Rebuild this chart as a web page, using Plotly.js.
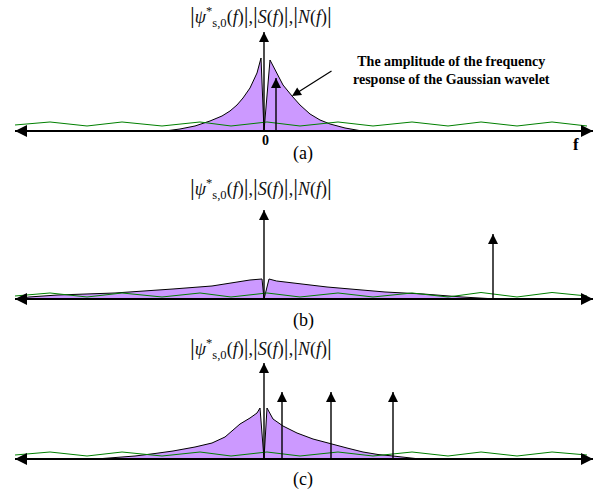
<!DOCTYPE html>
<html>
<head>
<meta charset="utf-8">
<script src="https://cdn.plot.ly/plotly-3.0.1.min.js"></script>
<style>html,body{margin:0;padding:0;background:#fff;}#chart{width:601px;height:492px;}</style>
</head>
<body>
<div id="chart"></div>
<script>
// ---------- data (f in arbitrary units, amplitude in arbitrary units) ----------
const fRange = [-4.98, 6.58];

// green noise spectrum |N(f)| (zig-zag), shared f positions
const noiseF  = [-4.98, -4.28, -3.54, -2.84, -2.04, -1.28, -0.66, 0.06, 0.72, 1.48, 2.18, 2.96, 3.68, 4.34, 5.06, 5.76, 6.46];
const noiseA  = [0.6, 0.9, 0.5, 0.9, 0.5, 0.9, 0.5, 0.9, 0.5, 0.9, 0.5, 0.9, 0.5, 0.9, 0.5, 0.9, 0.5];
const noiseB  = [0.3, 0.6, 0.2, 0.6, 0.2, 0.6, 0.2, 0.6, 0.2, 0.6, 0.2, 0.6, 0.2, 0.65, 0.2, 0.65, 0.3];
const noiseC  = [0.4, 0.7, 0.3, 0.7, 0.3, 0.7, 0.3, 0.7, 0.3, 0.7, 0.3, 0.7, 0.3, 0.7, 0.3, 0.7, 0.4];

// purple wavelet amplitude |psi*(f)|
const waveFA = [-1.98, -1.68, -1.38, -1.08, -0.84, -0.68, -0.54, -0.42, -0.28, -0.14, -0.06, 0, 0.12, 0.26, 0.38, 0.56, 0.72, 0.92, 1.12, 1.32, 1.62, 1.96];
const waveA  = [0, 0.2, 0.5, 1.0, 1.5, 2.0, 2.6, 3.3, 4.3, 5.8, 7.3, 0, 7.1, 5.8, 4.6, 3.5, 2.6, 1.7, 1.1, 0.7, 0.3, 0];
const waveFB = [-4.98, -4.7, -4.12, -2.98, -1.82, -1.04, -0.28, -0.04, 0, 0.1, 0.25, 0.56, 1.26, 2.42, 3.18, 3.96, 4.64];
const waveB  = [0, 0.2, 0.4, 0.6, 1.0, 1.3, 1.9, 2.0, 0, 2.0, 1.8, 1.6, 1.2, 0.7, 0.5, 0.2, 0];
const waveFC = [-3.36, -2.88, -2.58, -2.18, -1.82, -1.38, -1.04, -0.78, -0.64, -0.48, -0.28, -0.14, -0.08, 0, 0.06, 0.18, 0.38, 0.66, 0.98, 1.34, 1.66, 1.98, 2.28, 2.58, 2.92, 3.12];
const waveC  = [0, 0.15, 0.3, 0.55, 0.8, 1.2, 1.6, 2.2, 2.8, 3.5, 4.1, 4.6, 5.1, 0, 5.1, 4.0, 3.3, 2.6, 2.0, 1.5, 1.1, 0.7, 0.45, 0.3, 0.1, 0];

// impulses / vertical axis arrows (position, height)
const impFA = [0, 0.24];        const impHA = [9.9, 5.3];
const impFB = [0, 4.58];        const impHB = [8.9, 6.5];
const impFC = [0, 0.36, 1.34, 2.58]; const impHC = [9.6, 6.7, 6.7, 6.7];

// texts
const BAR = '<span style="font-size:24px">|</span>';
const yLabel = BAR + '<i>ψ</i><sup>*</sup><sub>s,0</sub>(<i>f</i>)' + BAR + ',' + BAR + '<i>S</i>(<i>f</i>)' + BAR + ',' + BAR + '<i>N</i>(<i>f</i>)' + BAR;
const panelLabels = ['(a)', '(b)', '(c)'];
const noteText = '<b>The amplitude of the frequency<br>response of the Gaussian wavelet</b>';

// ---------- build ----------
const SERIF = 'Liberation Serif, Times New Roman, serif';
const PURPLE = 'rgb(204,153,255)';
const GREEN = 'rgb(0,128,0)';
const H = 492;
const py = px => 1 - px / H;              // pixel row -> paper y
const pxX = px => (px - 15) / 578;        // pixel column -> paper x

const panels = [
  {xa: 'x',  ya: 'y',  wf: waveFA, wa: waveA, na: noiseA, imf: impFA, imh: impHA, titleRow: 16,  labRow: 153},
  {xa: 'x2', ya: 'y2', wf: waveFB, wa: waveB, na: noiseB, imf: impFB, imh: impHB, titleRow: 188, labRow: 320},
  {xa: 'x3', ya: 'y3', wf: waveFC, wa: waveC, na: noiseC, imf: impFC, imh: impHC, titleRow: 348, labRow: 479}
];

const traces = [];
const annotations = [];
panels.forEach((p, i) => {
  traces.push({type: 'scatter', mode: 'lines', x: p.wf, y: p.wa, xaxis: p.xa, yaxis: p.ya,
    fill: 'toself', fillcolor: PURPLE, line: {color: '#000', width: 1}, hoverinfo: 'skip', cliponaxis: false});
  traces.push({type: 'scatter', mode: 'lines', x: noiseF, y: p.na, xaxis: p.xa, yaxis: p.ya,
    line: {color: GREEN, width: 1}, hoverinfo: 'skip', cliponaxis: false});
  // horizontal axis with double arrow
  traces.push({type: 'scatter', mode: 'lines', x: fRange, y: [0, 0], xaxis: p.xa, yaxis: p.ya,
    line: {color: '#000', width: 2}, hoverinfo: 'skip', cliponaxis: false});
  traces.push({type: 'scatter', mode: 'markers', x: fRange, y: [0, 0], xaxis: p.xa, yaxis: p.ya,
    marker: {symbol: ['arrow-left', 'arrow-right'], size: 12, color: '#000'}, hoverinfo: 'skip', cliponaxis: false});
  // impulses
  const sx = [], sy = [];
  p.imf.forEach((f, k) => { sx.push(f, f, null); sy.push(0, p.imh[k], null); });
  traces.push({type: 'scatter', mode: 'lines', x: sx, y: sy, xaxis: p.xa, yaxis: p.ya,
    line: {color: '#000', width: 1.4}, hoverinfo: 'skip', cliponaxis: false});
  traces.push({type: 'scatter', mode: 'markers', x: p.imf, y: p.imh, xaxis: p.xa, yaxis: p.ya,
    marker: {symbol: 'arrow-up', size: 10, color: '#000'}, hoverinfo: 'skip', cliponaxis: false});

  annotations.push({xref: 'paper', yref: 'paper', x: pxX(261), y: py(p.titleRow), text: yLabel, showarrow: false,
    font: {family: SERIF, size: 18, color: '#111'}, xanchor: 'center', yanchor: 'middle'});
  annotations.push({xref: 'paper', yref: 'paper', x: pxX(303), y: py(p.labRow), text: panelLabels[i], showarrow: false,
    font: {family: SERIF, size: 18, color: '#000'}, xanchor: 'center', yanchor: 'middle'});
});

// panel (a) extras
annotations.push({xref: 'paper', yref: 'paper', x: pxX(265), y: py(140), text: '<b>0</b>', showarrow: false,
  font: {family: SERIF, size: 14, color: '#000'}, xanchor: 'center', yanchor: 'middle'});
annotations.push({xref: 'paper', yref: 'paper', x: pxX(576), y: py(144), text: '<b>f</b>', showarrow: false,
  font: {family: SERIF, size: 17, color: '#000'}, xanchor: 'center', yanchor: 'middle'});
annotations.push({xref: 'paper', yref: 'paper', x: pxX(451), y: py(71), text: noteText, showarrow: false, align: 'center',
  font: {family: SERIF, size: 14, color: '#000'}, xanchor: 'center', yanchor: 'middle'});
annotations.push({xref: 'x', yref: 'y', axref: 'x', ayref: 'y', x: 0.56, y: 3.5, ax: 1.38, ay: 6.1, text: '',
  showarrow: true, arrowhead: 2, arrowsize: 1.5, arrowwidth: 1.2, arrowcolor: '#000', standoff: 0, startstandoff: 0});

const axX = {range: fRange, visible: false, fixedrange: true};
const yR = [-0.9, 11.1];
const layout = {
  width: 601, height: 492,
  margin: {l: 15, r: 8, t: 0, b: 0},
  paper_bgcolor: '#fff', plot_bgcolor: 'rgba(0,0,0,0)',
  showlegend: false,
  xaxis:  Object.assign({}, axX, {anchor: 'y'}),
  xaxis2: Object.assign({}, axX, {anchor: 'y2'}),
  xaxis3: Object.assign({}, axX, {anchor: 'y3'}),
  yaxis:  {range: yR, visible: false, domain: [0.71545, 0.95935], anchor: 'x'},
  yaxis2: {range: yR, visible: false, domain: [0.37398, 0.61789], anchor: 'x2'},
  yaxis3: {range: yR, visible: false, domain: [0.04878, 0.29268], anchor: 'x3'},
  annotations: annotations
};

Plotly.newPlot('chart', traces, layout, {staticPlot: true, displayModeBar: false});
</script>
</body>
</html>
